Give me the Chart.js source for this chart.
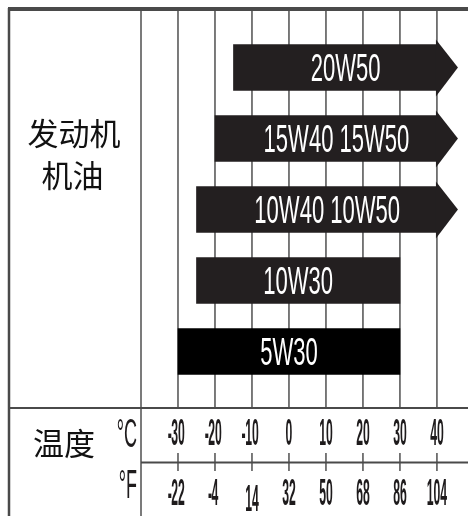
<!DOCTYPE html>
<html><head><meta charset="utf-8">
<script src="https://cdn.jsdelivr.net/npm/chart.js@4/dist/chart.umd.min.js"></script>
<style>html,body{margin:0;padding:0;background:#fff;}canvas{display:block;}</style>
</head><body>
<canvas id="c" width="468" height="516"></canvas>
<script>
// ---- data ----
const grades = ['20W50', '15W40 15W50', '10W40 10W50', '10W30', '5W30'];
const lowC = [-15, -20, -25, -25, -30];
const highC = [40, 40, 40, 30, 30];
const openEnded = [true, true, true, false, false];
const gridC = [-40, -30, -20, -10, 0, 10, 20, 30, 40];
const ticksC = [-30, -20, -10, 0, 10, 20, 30, 40];
const ticksF = [-22, -4, 14, 32, 50, 68, 86, 104];
const sideTitle = ['发动机', '机油'];
const axisTitle = '温度';
const unitC = '°C';
const unitF = '°F';

const LATIN = '"Liberation Sans", Arial, sans-serif';
const CJK = '"Noto Sans CJK SC", "Noto Sans", sans-serif';

function line(ctx, x1, y1, x2, y2) {
  ctx.beginPath(); ctx.moveTo(x1, y1); ctx.lineTo(x2, y2); ctx.stroke();
}
function condText(ctx, str, x, y, size, sx, align, weight) {
  ctx.save();
  ctx.translate(x, y); ctx.scale(sx, 1);
  ctx.font = (weight || 'normal') + ' ' + size + 'px ' + LATIN;
  ctx.textAlign = align; ctx.textBaseline = 'alphabetic';
  ctx.fillText(str, 0, 0);
  ctx.restore();
}
function tickText(ctx, v, x, y) {
  const size = 37, sx = 0.33;
  const s = String(Math.abs(v));
  ctx.save();
  ctx.font = 'bold ' + size + 'px ' + LATIN;
  const w = ctx.measureText(s).width * sx;
  ctx.restore();
  condText(ctx, s, x, y, size, sx, 'center', 'bold');
  if (v < 0) condText(ctx, '-', x - w / 2 + 0.5, y, size, sx, 'right', 'bold');
}

const framePlugin = {
  id: 'frame',
  beforeDatasetsDraw(chart) {
    const ctx = chart.ctx, xs = chart.scales.x, W = chart.width;
    ctx.save();
    ctx.strokeStyle = '#5a5a5a'; ctx.lineWidth = 1.6;
    gridC.forEach((v, i) => {
      const px = xs.getPixelForValue(v);
      line(ctx, px, 10, px, i === 0 ? 516 : 408);
    });
    ticksC.forEach(v => {
      const px = xs.getPixelForValue(v);
      line(ctx, px, 453, px, 471);
    });
    ctx.strokeStyle = '#4a4a4a';
    ctx.lineWidth = 4; line(ctx, 8, 9, W, 9);
    ctx.lineWidth = 2.5; line(ctx, 9, 8, 9, 516);
    ctx.lineWidth = 2.2; line(ctx, 9, 408, W, 408);
    ctx.lineWidth = 2; line(ctx, xs.left, 462.5, W, 462.5);
    ctx.restore();
  },
  afterDatasetsDraw(chart) {
    const ctx = chart.ctx, xs = chart.scales.x;
    const meta = chart.getDatasetMeta(0);
    const colors = chart.data.datasets[0].backgroundColor;
    ctx.save();
    meta.data.forEach((el, i) => {
      const p = el.getProps(['x', 'y', 'base', 'height'], true);
      const top = p.y - p.height / 2, bot = p.y + p.height / 2;
      let right = p.x;
      if (openEnded[i]) {
        ctx.fillStyle = colors[i];
        ctx.beginPath();
        ctx.moveTo(p.x - 1, top - 5);
        ctx.lineTo(p.x + 21, p.y);
        ctx.lineTo(p.x - 1, bot + 6);
        ctx.closePath(); ctx.fill();
        right = p.x + 21;
      }
      ctx.fillStyle = '#ffffff';
      condText(ctx, grades[i], (p.base + right) / 2, p.y + 13.5, 38, 0.58, 'center');
    });
    // tick labels
    ctx.fillStyle = '#1e1b1c';
    ticksC.forEach((v, i) => {
      const px = xs.getPixelForValue(v);
      tickText(ctx, v, px, 445);
      tickText(ctx, ticksF[i], px, ticksF[i] === 14 ? 511 : 505);
    });
    condText(ctx, unitC, 137, 447, 40, 0.45, 'right');
    condText(ctx, unitF, 137, 498, 40, 0.45, 'right');
    // CJK titles
    ctx.font = '31px ' + CJK;
    ctx.textAlign = 'center'; ctx.textBaseline = 'middle';
    ctx.fillStyle = '#111';
    ctx.fillText(sideTitle[0], 74, 133);
    ctx.fillText(sideTitle[1], 72.5, 175);
    ctx.fillText(axisTitle, 64, 443);
    ctx.restore();
  }
};

new Chart(document.getElementById('c'), {
  type: 'bar',
  data: {
    labels: grades,
    datasets: [{
      data: grades.map((g, i) => [lowC[i], highC[i]]),
      backgroundColor: ['#231f20', '#231f20', '#231f20', '#231f20', '#000000'],
      borderWidth: 0,
      borderSkipped: false,
      barThickness: 46
    }]
  },
  options: {
    indexAxis: 'y',
    responsive: false,
    animation: false,
    devicePixelRatio: 1,
    layout: { padding: { left: 141, right: 0, top: 32, bottom: 129 } },
    scales: {
      x: { type: 'linear', min: -40, max: 48.4, display: false },
      y: { display: false }
    },
    plugins: { legend: { display: false }, tooltip: { enabled: false } }
  },
  plugins: [framePlugin]
});
</script>
</body></html>
